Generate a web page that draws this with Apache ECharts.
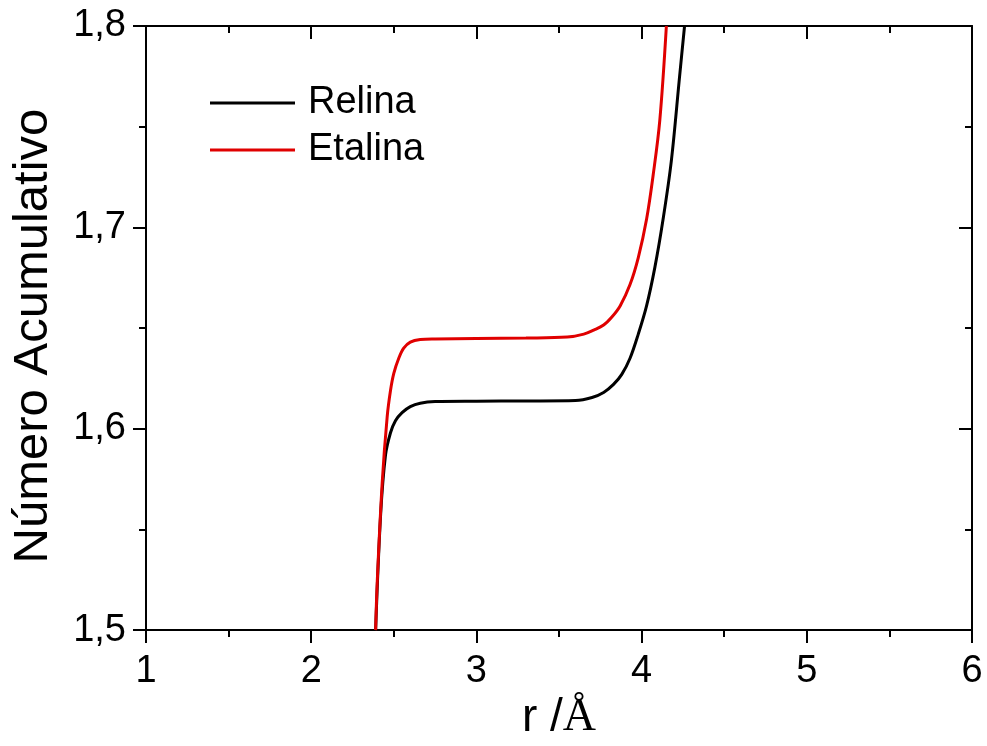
<!DOCTYPE html>
<html>
<head>
<meta charset="utf-8">
<script src="https://cdn.jsdelivr.net/npm/echarts@6/dist/echarts.min.js"></script>
<style>html,body{margin:0;padding:0;background:#fff;overflow:hidden;}#c{width:987px;height:746px;}</style>
</head>
<body>
<div id="c"></div>
<script>
// Data
var relinaR = [2.39, 2.42, 2.45, 2.48, 2.51, 2.55, 2.60, 2.66, 2.75, 3.0, 3.3, 3.6, 3.7, 3.77, 3.83, 3.88, 3.93, 3.98, 4.03, 4.08, 4.13, 4.18, 4.23, 4.26];
var relinaN = [1.50, 1.557, 1.587, 1.598, 1.604, 1.608, 1.611, 1.6127, 1.6135, 1.6137, 1.6138, 1.614, 1.6155, 1.618, 1.622, 1.627, 1.635, 1.647, 1.661, 1.680, 1.704, 1.733, 1.775, 1.80];
var etalinaR = [2.39, 2.40, 2.43, 2.46, 2.48, 2.50, 2.53, 2.56, 2.60, 2.66, 2.75, 3.0, 3.3, 3.55, 3.65, 3.71, 3.77, 3.82, 3.87, 3.93, 3.98, 4.03, 4.07, 4.11, 4.15];
var etalinaN = [1.50, 1.5245, 1.5735, 1.606, 1.619, 1.6275, 1.635, 1.640, 1.643, 1.6443, 1.6446, 1.6448, 1.645, 1.6455, 1.647, 1.649, 1.6515, 1.6555, 1.661, 1.6716, 1.685, 1.704, 1.726, 1.753, 1.80];
var seriesNames = ['Relina', 'Etalina'];
var xTicks = [1, 2, 3, 4, 5, 6];
var yTicks = [1.5, 1.6, 1.7, 1.8];

function pairs(a, b) { return a.map(function (v, i) { return [v, b[i]]; }); }

var chart = echarts.init(document.getElementById('c'), null, {renderer: 'canvas'});
var axisLineStyle = {color: '#000', width: 2};
var FONT = '"Liberation Sans", Arial, sans-serif';

chart.setOption({
  animation: false,
  backgroundColor: '#fff',
  grid: {left: 146, right: 15, top: 26, bottom: 109, containLabel: false},
  legend: {
    orient: 'vertical', left: 205, top: 78,
    icon: 'rect', itemWidth: 85, itemHeight: 3, itemGap: 7,
    textStyle: {fontFamily: FONT, fontSize: 38, color: '#000', lineHeight: 40, padding: [0, 0, 0, 8]},
    data: seriesNames
  },
  xAxis: [{
    type: 'value', min: xTicks[0], max: xTicks[xTicks.length - 1], interval: 1,
    position: 'bottom',
    name: '{a|r /}{b|Å}', nameLocation: 'middle', nameGap: 62,
    nameTextStyle: {rich: {
      a: {fontFamily: FONT, fontSize: 46, color: '#000'},
      b: {fontFamily: '"Liberation Serif", "Times New Roman", serif', fontSize: 46, color: '#000'}
    }},
    axisLine: {show: true, onZero: false, lineStyle: axisLineStyle},
    axisTick: {show: true, inside: false, length: 13, lineStyle: {color: '#000', width: 2}},
    minorTick: {show: true, splitNumber: 2, length: 7, lineStyle: {color: '#000', width: 2}},
    axisLabel: {fontFamily: FONT, fontSize: 38, color: '#000', margin: 22},
    splitLine: {show: false}
  }, {
    type: 'value', min: xTicks[0], max: xTicks[xTicks.length - 1], interval: 1,
    position: 'top',
    axisLine: {show: true, onZero: false, lineStyle: axisLineStyle},
    axisTick: {show: true, inside: true, length: 13, lineStyle: {color: '#000', width: 2}},
    minorTick: {show: true, splitNumber: 2, length: 7, lineStyle: {color: '#000', width: 2}},
    axisLabel: {show: false},
    splitLine: {show: false}
  }],
  yAxis: [{
    type: 'value', min: yTicks[0], max: yTicks[yTicks.length - 1], interval: 0.1,
    position: 'left',
    name: 'Número Acumulativo', nameLocation: 'middle', nameGap: 88, nameRotate: 90,
    nameTextStyle: {fontFamily: FONT, fontSize: 49, color: '#000', padding: [0, 16, 0, 0]},
    axisLine: {show: true, onZero: false, lineStyle: axisLineStyle},
    axisTick: {show: true, inside: false, length: 13, lineStyle: {color: '#000', width: 2}},
    minorTick: {show: true, splitNumber: 2, length: 7, lineStyle: {color: '#000', width: 2}},
    axisLabel: {fontFamily: FONT, fontSize: 38, color: '#000', margin: 20,
      formatter: function (v) { return v.toFixed(1).replace('.', ','); }},
    splitLine: {show: false}
  }, {
    type: 'value', min: yTicks[0], max: yTicks[yTicks.length - 1], interval: 0.1,
    position: 'right',
    axisLine: {show: true, onZero: false, lineStyle: axisLineStyle},
    axisTick: {show: true, inside: true, length: 13, lineStyle: {color: '#000', width: 2}},
    minorTick: {show: true, splitNumber: 2, length: 7, lineStyle: {color: '#000', width: 2}},
    axisLabel: {show: false},
    splitLine: {show: false}
  }],
  series: [{
    name: seriesNames[0], type: 'line', xAxisIndex: 0, yAxisIndex: 0,
    data: pairs(relinaR, relinaN), showSymbol: false, symbol: 'none',
    smooth: 0.35, clip: true,
    lineStyle: {color: '#000', width: 3}, itemStyle: {color: '#000'}
  }, {
    name: seriesNames[1], type: 'line', xAxisIndex: 0, yAxisIndex: 0,
    data: pairs(etalinaR, etalinaN), showSymbol: false, symbol: 'none',
    smooth: 0.35, clip: true,
    lineStyle: {color: '#e00000', width: 3}, itemStyle: {color: '#e00000'}
  }]
});
</script>
</body>
</html>
